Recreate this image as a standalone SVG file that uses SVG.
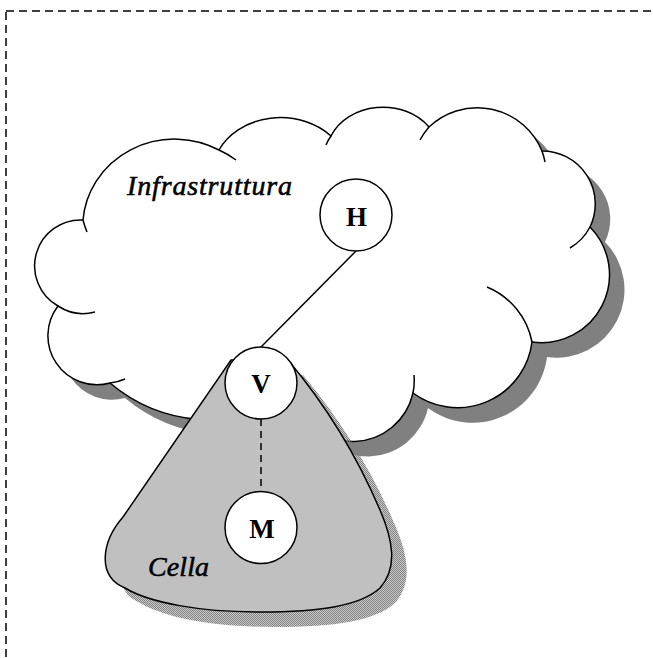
<svg xmlns="http://www.w3.org/2000/svg" width="653" height="658" viewBox="0 0 653 658">
<defs>
<pattern id="dither" width="2" height="2" patternUnits="userSpaceOnUse">
<rect width="2" height="2" fill="#808080" fill-opacity="0.4"/>
<rect width="1" height="1" fill="#808080"/>
<rect x="1" y="1" width="1" height="1" fill="#808080"/>
</pattern>
<path id="cloudPath" d="M83,220 A92,88 0 0 1 219,150 A68,56 0 0 1 331,136 A56,46 0 0 1 429,127 A70,70 0 0 1 542,151 A53,53 0 0 1 590,227 A68,68 0 0 1 532,342 A75,75 0 0 1 413,393 A62,62 0 0 1 293,397 A157,157 0 0 1 110,383 A49,49 0 0 1 58,306 A46,46 0 0 1 83,220 Z"/>
<path id="cellPath" d="M231,360 L288,360 Q345,428 380,510 C393,540 398,568 380,588 C360,606 320,612 260,612 C200,612 150,603 125,588 C96,576 102,541 123,517 Z"/>
</defs>
<style>
.ln{fill:none;stroke:#000;stroke-width:1.5}
.node{fill:#fff;stroke:#000;stroke-width:1.5}
.lbl{font-family:"Liberation Serif","Times New Roman",serif;font-weight:bold;font-size:27px;fill:#000}
.it{font-style:italic;font-weight:normal;font-size:28px;stroke:#000;stroke-width:0.55}
</style>
<rect id="frame" x="6" y="11" width="1000" height="1000" fill="none" stroke="#000" stroke-width="1.5" stroke-dasharray="8,5"/>
<g id="cloud">
<use href="#cloudPath" transform="translate(15,15)" fill="#808080"/>
<use href="#cloudPath" fill="#fff" stroke="#000" stroke-width="1.5"/>
<path class="ln" d="M87,232 A92,88 0 0 1 83,220 M219,150 A92,88 0 0 1 236,160 M326,145 A56,46 0 0 1 331,136 M420,140 A70,70 0 0 1 429,127 M542,151 A70,70 0 0 1 545,162 M590,227 A53,53 0 0 1 570,248 M487,287 A75,75 0 0 1 532,342 M414,375 A62,62 0 0 1 413,393 M125,379 A49,49 0 0 1 110,383 M95,312 A46,46 0 0 1 58,306"/>
<text class="lbl it" x="127" y="195" textLength="165" lengthAdjust="spacing">Infrastruttura</text>
</g>
<g id="cell">
<use href="#cellPath" transform="translate(15,15)" fill="url(#dither)"/>
<use href="#cellPath" fill="#c0c0c0" stroke="#000" stroke-width="1.5"/>
<text class="lbl it" x="148" y="576" textLength="61" lengthAdjust="spacing">Cella</text>
</g>
<g id="connectors">
<line class="ln" x1="356" y1="251" x2="261" y2="347"/>
<line class="ln" x1="261" y1="419" x2="261" y2="491" stroke-dasharray="7,5"/>
</g>
<g id="node-H">
<circle class="node" cx="356" cy="215" r="36"/>
<text class="lbl" x="356.5" y="226" text-anchor="middle">H</text>
</g>
<g id="node-V">
<circle class="node" cx="261" cy="383" r="36"/>
<text class="lbl" x="261" y="393" text-anchor="middle">V</text>
</g>
<g id="node-M">
<circle class="node" cx="261" cy="527.5" r="36"/>
<text class="lbl" x="262" y="538" text-anchor="middle">M</text>
</g>
</svg>
